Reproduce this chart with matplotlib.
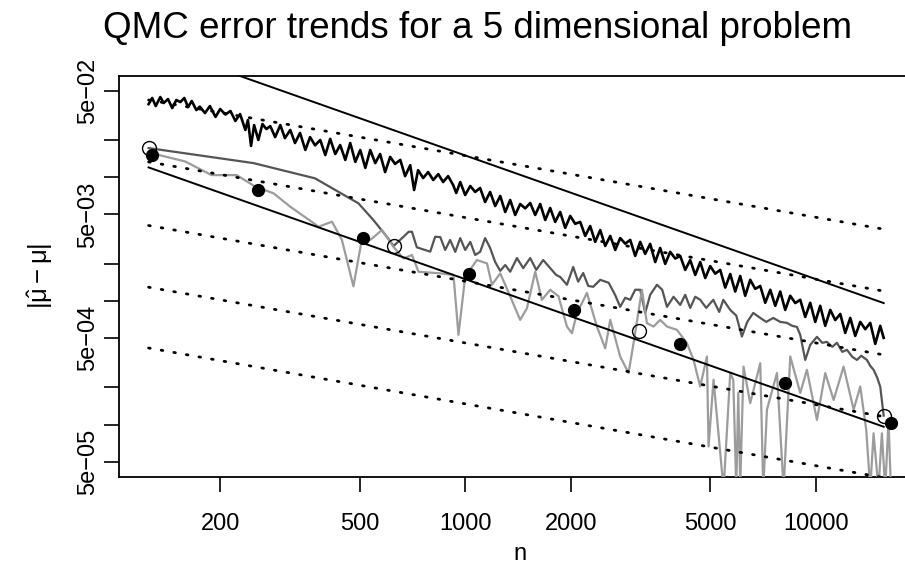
import numpy as np
import matplotlib
matplotlib.use("Agg")
import matplotlib.pyplot as plt

plt.rcParams['font.family'] = ['Liberation Sans', 'DejaVu Sans']
plt.rcParams['mathtext.fontset'] = 'custom'
plt.rcParams['mathtext.rm'] = 'Liberation Sans'
plt.rcParams['mathtext.it'] = 'Liberation Sans'

# --- data ---
# plain Monte Carlo style error (dense, noisy)
mc_n = [125, 128, 131, 135, 138, 142, 146, 150, 154, 158, 162, 166, 171, 175, 181, 187,
        194, 200, 207, 214, 221, 228, 236, 240, 245, 250, 257, 264, 271, 278, 287, 297,
        306, 317, 327, 338, 350, 361, 373, 386, 399, 412, 426, 440, 455, 470, 486, 502,
        519, 536, 554, 572, 591, 611, 631, 653, 674, 697, 715, 734, 759, 784, 811, 838,
        865, 894, 924, 943, 968, 1000, 1034, 1068, 1103, 1140, 1178, 1218, 1259, 1301, 1344, 1389,
        1435, 1483, 1533, 1584, 1637, 1692, 1748, 1806, 1867, 1929, 1994, 2060, 2129, 2200, 2273, 2349,
        2428, 2509, 2593, 2680, 2768, 2861, 2957, 3055, 3157, 3262, 3371, 3484, 3600, 3721, 3845, 3973,
        4106, 4243, 4385, 4532, 4683, 4840, 5001, 5168, 5340, 5519, 5703, 5893, 6090, 6293, 6503, 6721,
        6946, 7178, 7418, 7665, 7920, 8185, 8458, 8741, 9033, 9333, 9645, 9968, 10300, 10645, 11000, 11367,
        11748, 12139, 12545, 12964, 13398, 13845, 14307, 14786, 15277, 15625]
mc_err = [0.0390, 0.0437, 0.0376, 0.0445, 0.0398, 0.0428, 0.0362, 0.0421, 0.0405, 0.0437, 0.0369, 0.0413,
          0.0349, 0.0372, 0.0330, 0.0376, 0.0307, 0.0356, 0.0321, 0.0343, 0.0285, 0.0324, 0.0241, 0.0290,
          0.0179, 0.0264, 0.0200, 0.0269, 0.0245, 0.0259, 0.0211, 0.0264, 0.0207, 0.0241, 0.0189, 0.0228,
          0.0166, 0.0211, 0.0181, 0.0200, 0.0151, 0.0204, 0.0154, 0.0182, 0.0138, 0.0189, 0.0133, 0.0166,
          0.0119, 0.0166, 0.0130, 0.0154, 0.0110, 0.0146, 0.0128, 0.0138, 0.0102, 0.0125, 0.00788, 0.0114,
          0.00985, 0.0110, 0.00949, 0.0106, 0.00914, 0.0102, 0.00865, 0.00745, 0.00914, 0.00718, 0.00849, 0.00760,
          0.00818, 0.00630, 0.00759, 0.00585, 0.00705, 0.00523, 0.00654, 0.00495, 0.00607, 0.00560, 0.00618, 0.00495,
          0.00607, 0.00451, 0.00564, 0.00435, 0.00523, 0.00389, 0.00486, 0.00420, 0.00435, 0.00335, 0.00403, 0.00300,
          0.00374, 0.00278, 0.00335, 0.00258, 0.00322, 0.00290, 0.00311, 0.00231, 0.00300, 0.00240, 0.00289, 0.00206,
          0.00268, 0.00199, 0.00249, 0.00220, 0.00231, 0.00178, 0.00214, 0.00162, 0.00206, 0.00153, 0.00191, 0.00166,
          0.00178, 0.00128, 0.00165, 0.00119, 0.00159, 0.00110, 0.00148, 0.00125, 0.00132, 0.000965, 0.00123, 0.000912,
          0.00119, 0.000845, 0.00110, 0.000960, 0.00102, 0.000742, 0.000965, 0.000676, 0.000912, 0.000628, 0.000845, 0.000700,
          0.000784, 0.000551, 0.000728, 0.000521, 0.000676, 0.000590, 0.000664, 0.000449, 0.000628, 0.000502]

# lattice rule error (dark grey), n from 125 to 15625
lat_n = [125, 249, 373, 496, 547, 598, 625, 667, 690, 705, 728, 795, 821, 849, 877, 906,
         937, 968, 1000, 1034, 1068, 1103, 1140, 1178, 1218, 1259, 1301, 1344, 1405, 1464, 1533, 1595,
         1669, 1748, 1818, 1867, 1951, 2033, 2100, 2171, 2244, 2319, 2428, 2567, 2676, 2768, 2861, 2957,
         3055, 3157, 3262, 3371, 3524, 3648, 3764, 3930, 4106, 4243, 4385, 4532, 4683, 4872, 5102, 5305,
         5449, 5703, 5934, 6157, 6378, 6634, 6946, 7226, 7565, 7920, 8280, 8570, 8838, 9033, 9333, 9645,
         10080, 10436, 10766, 11148, 11496, 11904, 12277, 12710, 13109, 13487, 13996, 14307, 14626, 14979, 15277, 15625]
lat_err = [0.0172, 0.0130, 0.00979, 0.00615, 0.00451, 0.00330, 0.00278, 0.00330, 0.00362, 0.00362, 0.00271, 0.00250,
           0.00330, 0.00328, 0.00258, 0.00311, 0.00249, 0.00322, 0.00258, 0.00300, 0.00235, 0.00249, 0.00322, 0.00268,
           0.00206, 0.00175, 0.00195, 0.00172, 0.00222, 0.00184, 0.00222, 0.00178, 0.00214, 0.00184, 0.00162, 0.00156,
           0.00135, 0.00188, 0.00143, 0.00168, 0.00132, 0.00130, 0.00148, 0.00140, 0.00112, 0.000895, 0.00106, 0.00102,
           0.00123, 0.00123, 0.000799, 0.00112, 0.00135, 0.00123, 0.000895, 0.00108, 0.000927, 0.00112, 0.000877, 0.00108,
           0.00102, 0.000877, 0.00102, 0.000814, 0.00102, 0.000845, 0.000760, 0.000515, 0.000676, 0.000799, 0.000728, 0.000676,
           0.000728, 0.000676, 0.000664, 0.000628, 0.000616, 0.000531, 0.000333, 0.000441, 0.000512, 0.000458, 0.000466, 0.000425,
           0.000458, 0.000387, 0.000402, 0.000353, 0.000333, 0.000360, 0.000333, 0.000298, 0.000277, 0.000239, 0.000202, 0.000118]

# Sobol' error (light grey), n from 128 to 16384
sob_n = [128, 159, 189, 223, 252, 284, 317, 382, 417, 445, 480, 507, 536, 579, 624, 667,
         705, 736, 849, 926, 957, 1000, 1080, 1154, 1192, 1259, 1344, 1435, 1500, 1584, 1655, 1748,
         1846, 1951, 2016, 2084, 2225, 2376, 2509, 2593, 2768, 2924, 3022, 3193, 3300, 3446, 3600, 3764,
         4018, 4291, 4482, 4683, 4894, 4946, 5111, 5459, 5703, 5818, 5934, 6012, 6090, 6224, 6503, 6946,
         7084, 7258, 7752, 8097, 8458, 9033, 9437, 10080, 10645, 11246, 12009, 12826, 13398, 13934, 14307, 14620,
         15101, 15441, 15786, 16131, 16384]
sob_err = [0.0156, 0.0134, 0.0104, 0.0104, 0.00838, 0.00741, 0.00577, 0.00398, 0.00437, 0.00311, 0.00131, 0.00311,
           0.00311, 0.00374, 0.00274, 0.00220, 0.00235, 0.00172, 0.00167, 0.00162, 0.000531, 0.00157, 0.00214, 0.00201,
           0.00135, 0.00167, 0.00109, 0.000702, 0.000871, 0.00172, 0.00102, 0.00123, 0.00109, 0.000620, 0.000548, 0.000795,
           0.00116, 0.000620, 0.000413, 0.000702, 0.000355, 0.000261, 0.000455, 0.00123, 0.000660, 0.000620, 0.000702, 0.000620,
           0.000583, 0.000455, 0.000333, 0.000203, 0.000355, 0.0000665, 0.000230, 0.0000300, 0.000261, 0.000230, 0.0000300, 0.000180,
           0.0000320, 0.000294, 0.000149, 0.000313, 0.0000300, 0.000132, 0.000261, 0.0000300, 0.000355, 0.000180, 0.000277, 0.000109,
           0.000261, 0.000158, 0.000294, 0.000132, 0.000203, 0.0000907, 0.0000300, 0.0000850, 0.0000300, 0.0000850, 0.0000300, 0.000109,
           0.0000300]

# marked points
pow2_n = [128, 256, 512, 1024, 2048, 4096, 8192, 16384]
pow2_err = [0.0150, 0.00787, 0.00324, 0.00165, 0.000839, 0.000445, 0.000216, 0.0001035]
pow5_n = [125, 625, 3125, 15625]
pow5_err = [0.0173, 0.00278, 0.000574, 0.000118]

# reference lines: slope -1 (solid) and slope -1/2 (dotted), ends at n=125 and n=15625
ref_n = [125, 15625]
ref1_err = [[0.120, 0.00096], [0.0120, 0.000096]]
ref_half_err = [[0.0421, 0.00380], [0.0133, 0.00120], [0.00407, 0.000366],
                [0.00129, 0.000116], [0.000416, 0.0000372]]

yticks = [5e-2, 2e-2, 1e-2, 5e-3, 2e-3, 1e-3, 5e-4, 2e-4, 1e-4, 5e-5]
ylabels = ['5e\u221202', '', '', '5e\u221203', '', '', '5e\u221204', '', '', '5e\u221205']
xticks = [200, 500, 1000, 2000, 5000, 10000]

# --- figure ---
fig = plt.figure(figsize=(9.05, 5.66), dpi=100)
ax = fig.add_axes([0.1313, 0.1581, 0.8859, 0.7076])

ax.plot(mc_n, mc_err, color='black', lw=1.9, zorder=2)
ax.plot(lat_n, lat_err, color='#555555', lw=1.6, zorder=3)
ax.plot(sob_n, sob_err, color='#9c9c9c', lw=1.6, zorder=3)

for e in ref1_err:
    ax.plot(ref_n, e, color='black', lw=1.4, zorder=4)
for e in ref_half_err:
    ax.plot(ref_n, e, color='black', lw=2.0, linestyle=(0, (0.6, 4.0)),
            dash_capstyle='round', zorder=4)

ax.plot(pow2_n, pow2_err, 'o', color='black', ms=8.5, zorder=5)
ax.plot(pow5_n, pow5_err, 'o', mfc='none', mec='black', mew=1.0, ms=10, zorder=5)

ax.set_xscale('log')
ax.set_yscale('log')
ax.set_xlim(102.8, 19909)
ax.set_ylim(3.8e-5, 0.0658)

ax.set_xticks(xticks)
ax.set_xticklabels([str(v) for v in xticks])
ax.set_yticks(yticks)
ax.set_yticklabels(ylabels, rotation=90, va='center')
ax.minorticks_off()
ax.tick_params(axis='both', direction='out', length=11, width=1.2, labelsize=17, colors='black')
ax.tick_params(axis='x', pad=15)
ax.tick_params(axis='y', pad=3)
for s in ax.spines.values():
    s.set_linewidth(1.3)

ax.set_xlabel('n', fontsize=17, labelpad=6)
ax.set_ylabel(r'$|\hat{\mu} - \mu|$', fontsize=18.5, labelpad=16)
fig.text(0.528, 0.95, 'QMC error trends for a 5 dimensional problem', fontsize=26.5,
         ha='center', va='center')

fig.savefig('out.png', dpi=100)
